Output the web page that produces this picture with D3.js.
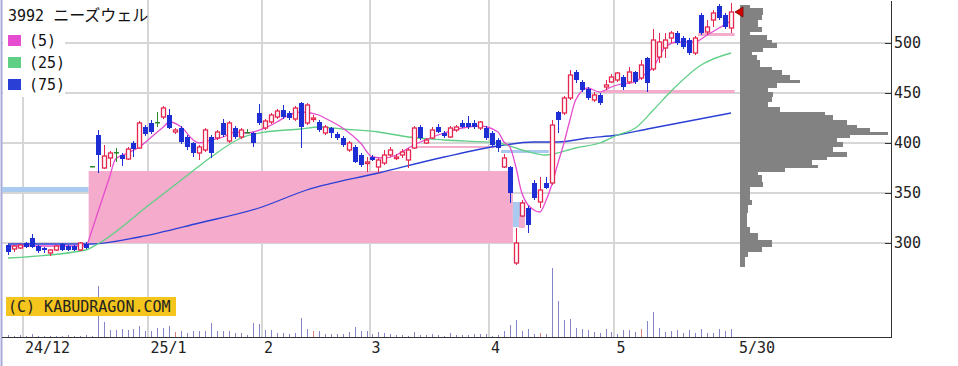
<!DOCTYPE html>
<meta charset="utf-8">
<head>
<style>
body { margin: 0; background: #fff; }
.grid line { stroke: #d6d6d6; stroke-width: 1.5px; shape-rendering: crispEdges; }
.axis text { font-family: "DejaVu Sans Mono", monospace; font-size: 15px; fill: #222; }
.axis line, .axis path { stroke: #333; shape-rendering: crispEdges; }
.ma { fill: none; stroke-width: 1.3px; }
</style>
<script src="https://cdn.jsdelivr.net/npm/d3@7"></script>
</head>
<body>
<div id="chart"></div>
<script>

// daily candles, index 0 = 2024/11/27 ... 121 = 2025/5/30
var open  = [298,294,295,300,305,297,295,290,293,299,297,297,293,299,377,408,375,385,391,388,384,400,395,416,420,421,426,428,411,415,406,400,390,393,406,405,420,402,415,406,411,410,430,415,421,426,433,430,424,440,420,424,421,410,415,409,405,393,396,388,380,386,376,380,388,385,388,383,395,416,400,405,416,410,406,413,420,420,420,415,415,410,403,376,376,280,327,335,360,341,360,360,431,430,445,471,461,454,443,448,456,461,463,466,461,471,465,485,474,486,495,505,510,505,503,490,528,511,523,537,528,515];
var high  = [299,298,299,301,309,298,296,294,298,300,298,298,301,301,377,413,398,392,395,390,396,402,422,418,423,431,437,434,415,417,408,401,398,415,408,413,424,422,417,415,414,411,439,424,430,434,438,432,437,441,440,428,423,418,416,411,407,402,398,390,386,388,385,393,396,389,394,395,417,418,405,416,419,412,417,418,423,427,423,422,417,412,405,389,377,315,343,337,363,366,366,423,432,447,473,473,463,456,451,450,463,469,471,468,476,472,483,486,514,510,510,512,512,507,505,507,530,523,533,539,530,540];
var low   = [288,291,294,295,295,290,290,287,292,292,292,292,292,294,377,370,374,376,381,377,383,386,394,407,409,416,424,414,409,399,393,386,383,391,385,403,406,400,404,404,410,396,418,413,419,424,424,423,422,395,418,421,411,408,405,403,396,391,380,376,371,382,370,378,386,383,385,375,394,403,399,404,410,405,405,411,415,414,414,413,403,396,391,375,340,278,326,310,343,335,354,358,410,428,443,460,451,443,441,438,453,460,461,453,459,459,463,451,472,480,485,500,498,494,488,488,508,508,516,523,514,510];
var close = [291,297,298,296,296,292,293,293,297,293,293,293,300,295,377,388,387,390,391,384,394,394,420,409,411,421,435,415,413,401,396,390,396,413,390,411,408,420,406,413,411,400,420,422,428,432,426,425,435,416,438,425,413,416,410,405,398,400,381,378,381,383,383,388,393,386,391,393,415,405,403,413,411,407,415,416,416,416,416,421,405,398,395,385,350,300,340,318,345,353,355,418,423,445,468,463,453,445,448,440,458,466,470,456,471,461,478,460,503,501,503,510,500,496,490,505,510,516,530,525,516,531];
var volume = [2,1,2,1,3,1,1,1,1,1,2,1,1,2,1,51,15,7,7,8,7,8,11,6,6,9,9,11,5,6,4,6,6,6,14,6,6,6,4,4,2,14,13,7,7,4,4,3,4,19,8,6,6,3,3,3,3,5,10,6,6,3,5,4,3,2,2,1,5,2,2,3,2,1,4,2,2,2,3,3,3,1,2,6,12,17,6,8,3,4,3,69,36,17,18,9,8,7,5,4,8,5,3,7,7,5,8,16,25,9,5,6,7,4,7,4,8,4,4,8,6,8];
var volRed = [28, 51, 89, 106];

// moving averages: [day index, price]
var ma5  = [[0,297],[13,297],[14,312],[15,330],[16,348],[17,366],[18,384],[20,390],[22,396],[24,406],[26,416],[27,421],[29,416],[31,403],[32,400],[34,403],[36,406],[38,411],[40,410],[43,415],[45,421],[47,428],[49,431],[52,428],[53,425],[56,415],[59,400],[61,386],[63,385],[65,388],[67,395],[69,401],[73,410],[76,415],[79,417],[82,411],[83,401],[84,396],[85,376],[86,350],[88,333],[89,331],[90,342],[91,358],[92,379],[93,399],[94,422],[95,443],[97,455],[99,451],[101,456],[102,458],[105,461],[106,466],[108,476],[110,496],[112,501],[115,501],[117,508],[119,515],[121,522]];
var ma25 = [[0,285],[13,293],[15,299],[24,340],[29,363],[32,377],[34,386],[39,405],[43,411],[49,414],[52,416],[56,414],[62,411],[67,406],[73,403],[82,400],[86,393],[90,388],[95,395],[99,400],[102,408],[105,415],[108,433],[111,452],[116,478],[121,490]];
var ma75 = [[0,299],[14,299],[22,306],[32,320],[42,335],[50,353],[62,370],[73,386],[82,397],[88,401],[92,401],[97,405],[102,408],[107,414],[121,430]];

// price gaps (窓): from index, to index, low, high, up/down
var gapFrom = [-1, 13.5, 67.5, 82.5, 84.5, 85.5, 99.5, 115.5];
var gapTo   = [13.5, 84.5, 81.5, 90.5, 86.5, 86.5, 121.6, 121.6];
var gapLo   = [351, 300, 395, 390, 316, 315, 450, 507];
var gapHi   = [356, 372, 397, 393, 341, 326, 453, 510];
var gapUp   = [false, true, true, false, false, true, true, true];

// price-by-volume profile
var vpHi  = [538,535,528,523,516,511,508,503,500,495,491,488,483,476,473,468,463,460,455,451,446,441,436,431,428,423,418,415,411,408,405,401,396,391,386,383,378,375,371,368,361,356,351,343,338,330,316,310,303,296,291,286];
var vpLo  = [535,528,523,516,511,508,503,500,495,491,488,483,476,473,468,463,460,455,451,446,441,436,431,428,423,418,415,411,408,405,401,396,391,386,383,378,375,371,368,361,356,351,343,338,330,316,310,303,296,291,286,276];
var vpVol = [10,23,22,18,22,10,27,32,37,23,12,17,20,32,42,50,60,37,28,33,32,28,40,85,93,107,117,130,148,110,97,103,93,107,87,72,78,45,18,22,23,10,10,12,8,7,10,18,32,22,8,5];

var tickIdx = [3, 24, 43, 61, 81, 102];
var tickLabels = ["24/12", "25/1", "2", "3", "4", "5"];
var lastLabel = "5/30";
var priceTicks = [300, 350, 400, 450, 500];
var maNames = ["(5)", "(25)", "(75)"];
var maColors = ["#e64ccf", "#5fcf86", "#2a3fd6"];

var width = 958, height = 366;
var svg = d3.select("#chart").append("svg")
  .attr("width", width).attr("height", height);

var x = d3.scaleLinear().domain([0, 121]).range([8, 731]);
var y = d3.scaleLinear().domain([206, 543]).range([337, 0]);
var vy = d3.scaleLinear().domain([0, 69]).range([337, 268]);
var vpx = d3.scaleLinear().domain([0, 148]).range([740, 888]);

var days = d3.range(open.length);
function px(i) { return Math.round(x(i)); }

//// grid
var grid = svg.append("g").attr("class", "grid");
grid.selectAll("hline").data(priceTicks).enter().append("line")
  .attr("x1", 2).attr("x2", 891)
  .attr("y1", function(d) { return Math.round(y(d)); })
  .attr("y2", function(d) { return Math.round(y(d)); });
grid.selectAll("vline").data(tickIdx).enter().append("line")
  .attr("x1", function(d) { return Math.round(x(d - 0.5)); })
  .attr("x2", function(d) { return Math.round(x(d - 0.5)); })
  .attr("y1", 0).attr("y2", 337);

// left border
svg.append("line").attr("x1", 1.5).attr("x2", 1.5).attr("y1", 0).attr("y2", height)
  .attr("stroke", "#a9a9dc").attr("stroke-width", 2);

//// gap windows
svg.selectAll("gaps").data(gapFrom).enter().append("rect")
  .attr("x", function(d) { return x(d); })
  .attr("width", function(d, i) { return x(gapTo[i]) - x(d); })
  .attr("y", function(d, i) { return y(gapHi[i]); })
  .attr("height", function(d, i) { return y(gapLo[i]) - y(gapHi[i]); })
  .attr("fill", function(d, i) { return gapUp[i] ? "#f5abcb" : "#abcaf0"; });

//// volume profile
svg.selectAll("vp").data(vpVol).enter().append("rect")
  .attr("x", vpx(0))
  .attr("width", function(d) { return vpx(d) - vpx(0); })
  .attr("y", function(d, i) { return y(vpHi[i]); })
  .attr("height", function(d, i) { return y(vpLo[i]) - y(vpHi[i]); })
  .attr("fill", "#828282");

//// moving averages
var line = d3.line()
  .curve(d3.curveMonotoneX)
  .x(function(d) { return x(d[0]); })
  .y(function(d) { return y(d[1]); });
[ma75, ma25, ma5].forEach(function(m, k) {
  svg.append("path").attr("class", "ma")
    .attr("d", line(m))
    .attr("stroke", maColors[2 - k]);
});

//// volume bars
svg.selectAll("vol").data(days).enter().append("line")
  .attr("x1", function(i) { return px(i) + 0.5; })
  .attr("x2", function(i) { return px(i) + 0.5; })
  .attr("y1", vy(0))
  .attr("y2", function(i) { return vy(volume[i]); })
  .attr("stroke", function(i) { return volRed.indexOf(i) >= 0 ? "#d88080" : "#8585c8"; })
  .attr("stroke-width", 1);

//// candles
function candleColor(i) {
  if (close[i] > open[i]) return "#e5264f";
  if (close[i] < open[i]) return "#1c2ed4";
  return "#2a8a2a";
}
var candles = svg.selectAll("candle").data(days).enter().append("g");
candles.append("line")
  .attr("x1", function(i) { return px(i) + 0.5; })
  .attr("x2", function(i) { return px(i) + 0.5; })
  .attr("y1", function(i) { return y(high[i]); })
  .attr("y2", function(i) { return y(low[i]); })
  .attr("stroke", candleColor);
candles.append("rect")
  .attr("x", function(i) { return close[i] > open[i] ? px(i) - 1.5 : px(i) - 2; })
  .attr("width", function(i) { return close[i] > open[i] ? 4 : 5; })
  .attr("y", function(i) { return y(Math.max(open[i], close[i])); })
  .attr("height", function(i) { return Math.max(1.5, Math.abs(y(open[i]) - y(close[i]))); })
  .attr("fill", function(i) { return close[i] > open[i] ? "#fff" : candleColor(i); })
  .attr("stroke", function(i) { return close[i] > open[i] ? candleColor(i) : "none"; })
  .attr("stroke-width", 1.3);

// last price marker
var lastY = y(close[close.length - 1]);
svg.append("path")
  .attr("d", "M735," + lastY + "L743," + (lastY - 5) + "L743," + (lastY + 5) + "Z")
  .attr("fill", "#d40000").attr("stroke", "#700").attr("stroke-width", 0.8);

//// axes
var yAxis = svg.append("g").attr("class", "axis")
  .attr("transform", "translate(891,0)")
  .call(d3.axisRight(y).tickValues(priceTicks).tickSizeInner(-6).tickSizeOuter(0).tickPadding(3));
yAxis.select(".domain").attr("stroke-width", 1.5);

var xAxis = svg.append("g").attr("class", "axis");
xAxis.append("line").attr("x1", 2).attr("x2", 892).attr("y1", 337.5).attr("y2", 337.5)
  .attr("stroke-width", 1.5);
xAxis.selectAll("lbl").data(tickIdx).enter().append("text")
  .attr("x", function(d) { return x(d - 0.5) + 2; })
  .attr("y", 353)
  .text(function(d, i) { return tickLabels[i]; });
xAxis.append("text").attr("x", x(121.5) + 5).attr("y", 353).text(lastLabel);

//// watermark
svg.append("rect").attr("x", 6).attr("y", 297).attr("width", 170).attr("height", 19).attr("fill", "#f4c51c");
svg.append("text").attr("x", 8).attr("y", 312)
  .style("font-family", "DejaVu Sans Mono, monospace").style("font-size", "15px").attr("fill", "#222")
  .text("(C) KABUDRAGON.COM");

//// legend
svg.append("rect").attr("x", 3).attr("y", 0).attr("width", 62).attr("height", 97).attr("fill", "#fff");
var title = svg.append("text").attr("x", 8).attr("y", 21)
  .style("font-family", "DejaVu Sans Mono, Noto Sans CJK JP").attr("fill", "#111");
title.append("tspan").style("font-size", "15px").text("3992 ");
title.append("tspan").style("font-size", "16px").text("ニーズウェル");
var leg = svg.selectAll("legend").data(maNames).enter().append("g")
  .attr("transform", function(d, i) { return "translate(8," + (35 + i * 22) + ")"; });
leg.append("rect").attr("width", 13).attr("height", 11)
  .attr("fill", function(d, i) { return maColors[i]; });
leg.append("text").attr("x", 21).attr("y", 11)
  .style("font-family", "DejaVu Sans Mono, monospace").style("font-size", "15px").attr("fill", "#111")
  .text(function(d) { return d; });

</script>
</body>
</html>
